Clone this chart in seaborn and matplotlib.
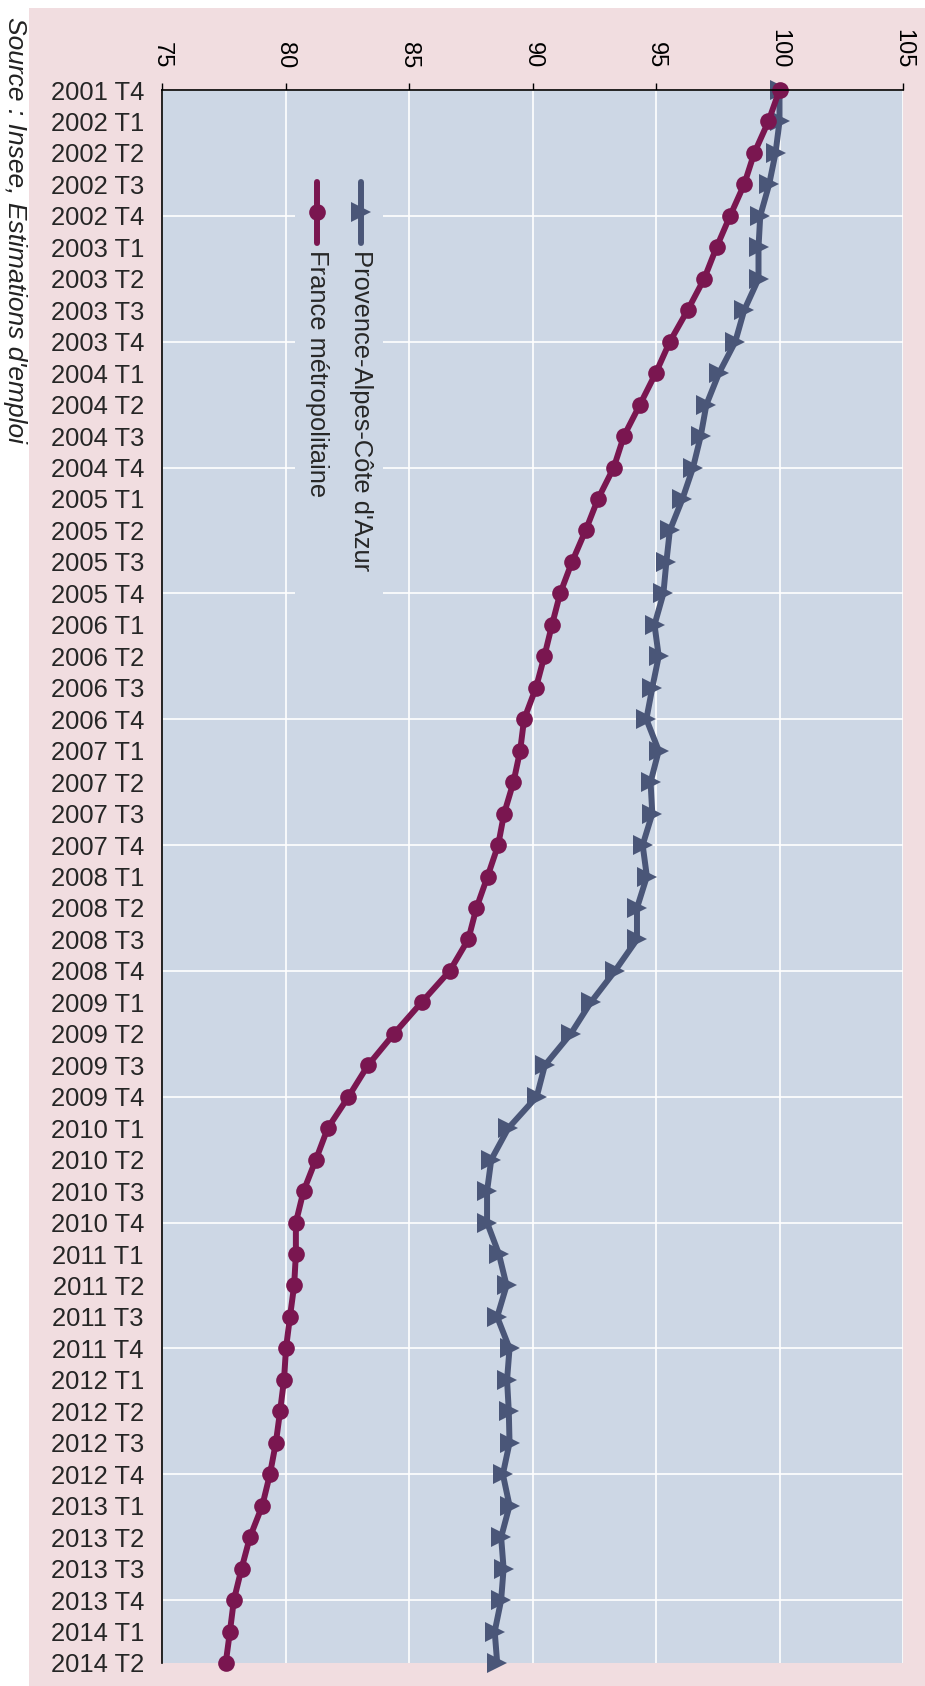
import numpy as np
import pandas as pd
import seaborn as sns
import matplotlib.pyplot as plt
from matplotlib.lines import Line2D
from matplotlib.patches import Rectangle

sns.set_style("white")
plt.rcParams["font.family"] = ["Liberation Sans", "DejaVu Sans"]

# Data
quarters = ["2001 T4"] + [f"{y} T{q}" for y in range(2002, 2014) for q in range(1, 5)] + ["2014 T1", "2014 T2"]

france = [
    100.0, 99.55, 98.98, 98.57, 98.0, 97.45, 96.95, 96.28, 95.56,
    94.99, 94.35, 93.70, 93.29, 92.65, 92.15, 91.60, 91.12,
    90.79, 90.48, 90.14, 89.66, 89.50, 89.23, 88.85, 88.61,
    88.18, 87.73, 87.40, 86.65, 85.51, 84.39, 83.34, 82.55,
    81.71, 81.23, 80.73, 80.42, 80.42, 80.35, 80.18, 80.02,
    79.94, 79.78, 79.61, 79.37, 79.06, 78.56, 78.22, 77.91,
    77.75, 77.58,
]

paca = [
    100.0, 100.0, 99.84, 99.58, 99.22, 99.15, 99.15, 98.57, 98.21,
    97.55, 97.04, 96.81, 96.50, 96.07, 95.56, 95.42, 95.30,
    94.94, 95.11, 94.85, 94.61, 95.11, 94.78, 94.85, 94.46,
    94.63, 94.23, 94.23, 93.34, 92.36, 91.55, 90.50, 90.17,
    89.02, 88.33, 88.16, 88.16, 88.64, 88.95, 88.57, 89.07,
    88.97, 89.04, 89.07, 88.80, 89.07, 88.73, 88.83, 88.73,
    88.47, 88.57,
]

value_ticks = [75, 80, 85, 90, 95, 100, 105]

label_paca = "Provence-Alpes-Côte d'Azur"
label_france = "France métropolitaine"
source_text = "Source : Insee, Estimations d'emploi"

col_france = "#7a1650"
col_paca = "#4a5678"
bg_plot = "#cdd7e5"
bg_fig = "#f1dde0"

df = pd.DataFrame({"quarter": quarters, "pos": np.arange(len(quarters)),
                   "france": france, "paca": paca})

# Figure
fig = plt.figure(figsize=(9.25, 16.86), dpi=100)
fig.patches.append(Rectangle((29 / 925, 0), 1, 1 - 8 / 1686, transform=fig.transFigure,
                             facecolor=bg_fig, edgecolor="none", zorder=-10))
ax = fig.add_axes([162 / 925, 1 - 1663 / 1686, (903 - 162) / 925, (1663 - 90) / 1686])
ax.set_facecolor(bg_plot)

lw = 4.3
ms_tri = 15
ms_dot = 12
sns.lineplot(data=df, x="paca", y="pos", sort=False, orient="y", color=col_paca,
             linewidth=lw, marker=">", markersize=ms_tri, markeredgewidth=0,
             legend=False, ax=ax, clip_on=False, zorder=2)
sns.lineplot(data=df, x="france", y="pos", sort=False, orient="y", color=col_france,
             linewidth=lw, marker="o", markersize=ms_dot, markeredgewidth=0,
             legend=False, ax=ax, clip_on=False, zorder=2.1)

ax.set_xlim(75, 105)
ax.set_ylim(len(quarters) - 1, 0)
ax.set_xlabel("")
ax.set_ylabel("")

# value axis on top
ax.xaxis.tick_top()
ax.set_xticks(value_ticks)
ax.set_xticklabels([str(v) for v in value_ticks], rotation=-90, fontsize=17)
ax.tick_params(axis="x", direction="out", length=5, width=1, pad=10.5, colors="black")

# category axis
ax.yaxis.remove_overlapping_locs = False
ax.set_yticks(df["pos"])
ax.set_yticklabels(quarters, fontsize=18.4)
ax.tick_params(axis="y", which="major", length=0, pad=13)
t4_pos = [p for p, q in zip(df["pos"], quarters) if q.endswith("T4")]
ax.set_yticks(t4_pos, minor=True)
ax.tick_params(axis="y", which="minor", direction="out", length=6.5, width=1, color="#333333")

ax.grid(axis="x", which="major", color="white", linewidth=1.2)
ax.grid(axis="y", which="minor", color="white", linewidth=1.2)
ax.set_axisbelow(True)

for s in ["right", "bottom"]:
    ax.spines[s].set_visible(False)
for s in ["left", "top"]:
    ax.spines[s].set_color("black")
    ax.spines[s].set_linewidth(1.2)

# legend, drawn rotated
ax.add_patch(Rectangle((0.1795, 0.669), 0.119, 0.2865, transform=ax.transAxes,
                       facecolor=bg_plot, edgecolor="none", zorder=1.5))
for xf, col, mk, ms, lab in [(0.2686, col_paca, ">", ms_tri, label_paca),
                             (0.209, col_france, "o", ms_dot, label_france)]:
    ax.add_line(Line2D([xf, xf], [0.9415, 0.9027], transform=ax.transAxes,
                       color=col, linewidth=lw, solid_capstyle="round", zorder=3))
    ax.add_line(Line2D([xf], [0.9224], transform=ax.transAxes, color=col,
                       marker=mk, markersize=ms, markeredgewidth=0, zorder=3))
    ax.text(xf, 0.8985, lab, transform=ax.transAxes, rotation=-90,
            ha="center", va="top", fontsize=18.4, zorder=3)

fig.text(15 / 925, 1 - 17 / 1686, source_text, rotation=-90, ha="center", va="top",
         fontsize=19, style="italic", color="#222222")

fig.savefig("out.png", dpi=100, facecolor="white")
